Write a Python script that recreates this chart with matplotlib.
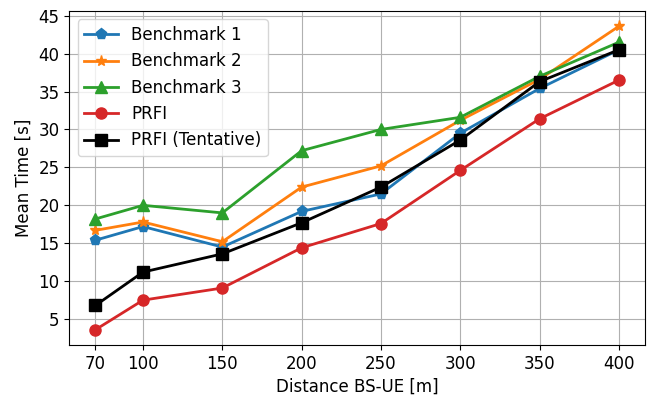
import matplotlib
matplotlib.use("Agg")
import matplotlib.pyplot as plt

# distances between base station and UE
distance = [70, 100, 150, 200, 250, 300, 350, 400]

# mean time per scheme
bench1 = [15.4, 17.2, 14.5, 19.2, 21.5, 29.5, 35.4, 40.5]
bench2 = [16.7, 17.8, 15.2, 22.4, 25.2, 31.2, 36.6, 43.6]
bench3 = [18.2, 20.0, 19.0, 27.2, 30.0, 31.6, 37.0, 41.5]
prfi = [3.6, 7.5, 9.1, 14.4, 17.6, 24.6, 31.4, 36.5]
prfi_tent = [6.8, 11.2, 13.6, 17.7, 22.4, 28.6, 36.3, 40.5]

plt.rcParams['font.size'] = 12

fig, ax = plt.subplots(figsize=(6.47, 3.96), dpi=100)
fig.subplots_adjust(left=0.107, right=0.997, top=0.972, bottom=0.129)

ax.plot(distance, bench1, marker='p', markersize=8, linewidth=2, color='tab:blue', label='Benchmark 1')
ax.plot(distance, bench2, marker='*', markersize=8, linewidth=2, color='tab:orange', label='Benchmark 2')
ax.plot(distance, bench3, marker='^', markersize=8, linewidth=2, color='tab:green', label='Benchmark 3')
ax.plot(distance, prfi, marker='o', markersize=8, linewidth=2, color='tab:red', label='PRFI')
ax.plot(distance, prfi_tent, marker='s', markersize=8, linewidth=2, color='black', label='PRFI (Tentative)')

ax.set_xticks(distance)
ax.set_yticks(range(5, 50, 5))
ax.set_xlabel('Distance BS-UE [m]')
ax.set_ylabel('Mean Time [s]')
ax.grid(True)
ax.legend(loc='upper left')

fig.savefig('out.png', dpi=100)
